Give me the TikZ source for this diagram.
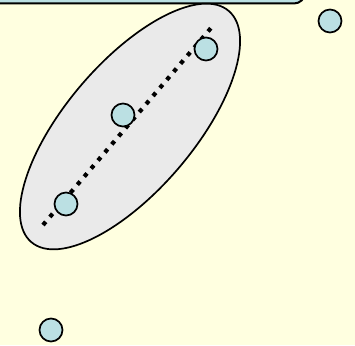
\documentclass[tikz,border=0pt]{standalone}
\usepackage{tikz}
\usetikzlibrary{shapes.geometric, positioning, calc}

\definecolor{paper}{RGB}{255,255,224}
\definecolor{dotblue}{RGB}{187,224,227}
\definecolor{groupgray}{RGB}{234,234,234}

\begin{document}
\begin{tikzpicture}[
    x=1pt, y=-1pt,
    pt/.style={circle, draw, line width=1.7pt, fill=dotblue, minimum size=23pt, inner sep=0pt},
    group/.style={draw, line width=1.7pt, fill=groupgray},
    fitline/.style={line width=4.2pt, dash pattern=on 4.2pt off 6.4pt},
    banner/.style={draw, line width=2pt, fill=dotblue, rounded corners=11pt},
]

% ---- Canvas ----
\fill[paper] (0,0) rectangle (355,345);
\useasboundingbox (0,0) rectangle (355,345);
\clip (0,0) rectangle (355,345);

% Banner box (cut off at the top)
\draw[banner] (-20,-40) rectangle (305,3.5);

% ---- Cluster ----
\draw[group] (130,126.5) ellipse [x radius=152, y radius=64, rotate=49.5];

\coordinate (lineA) at (43,225);
\coordinate (lineB) at (211,28);
\draw[fitline] (lineA) -- (lineB);

\node[pt] (p1) at (66,204) {};
\node[pt] (p2) at (123,115) {};
\node[pt] (p3) at (206,49) {};

% ---- Outliers ----
\node[pt] (q1) at (330,21) {};
\node[pt] (q2) at (51,330) {};

\end{tikzpicture}
\end{document}
